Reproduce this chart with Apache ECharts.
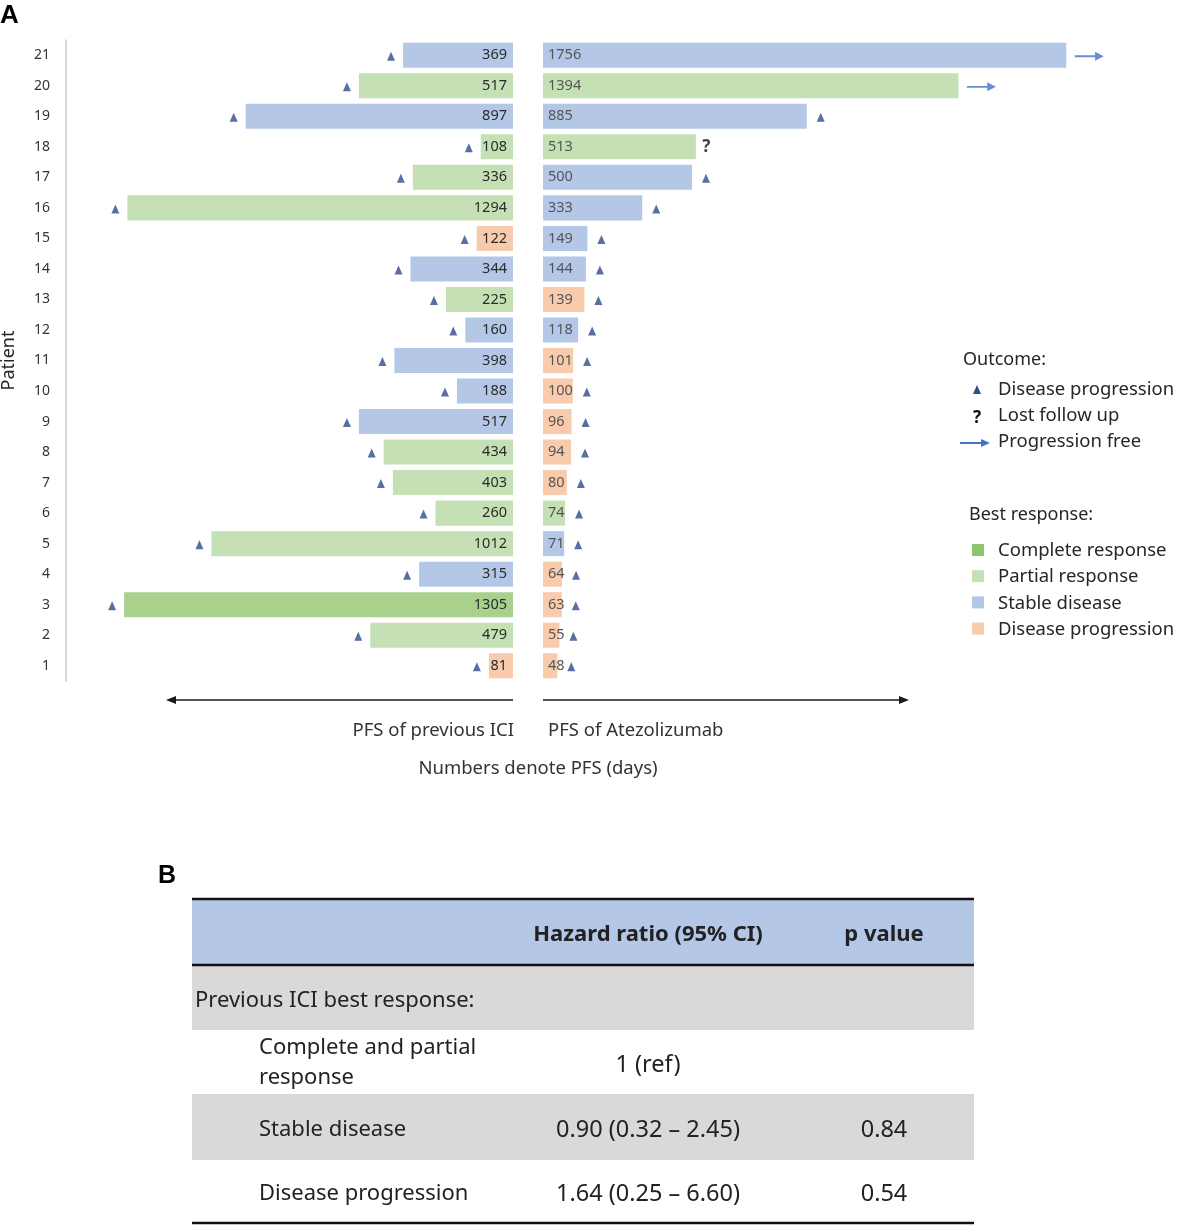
<!DOCTYPE html>
<html><head><meta charset="utf-8">
<script src="https://cdn.jsdelivr.net/npm/echarts@6.0.0/dist/echarts.min.js"></script>
<style>html,body{margin:0;padding:0;background:#fff}#c{width:1180px;height:1227px}</style>
</head><body><div id="c"></div>
<script>
// ---------------- data ----------------
const patients = ['1','2','3','4','5','6','7','8','9','10','11','12','13','14','15','16','17','18','19','20','21'];
const prevPFS  = [81,479,1305,315,1012,260,403,434,517,188,398,160,225,344,122,1294,336,108,897,517,369];
const prevResp = ['DP','PR','CR','SD','PR','PR','PR','PR','SD','SD','SD','SD','PR','SD','DP','PR','PR','PR','SD','PR','SD'];
const atezoPFS  = [48,55,63,64,71,74,80,94,96,100,101,118,139,144,149,333,500,513,885,1394,1756];
const atezoResp = ['DP','DP','DP','DP','SD','PR','DP','DP','DP','DP','DP','SD','DP','SD','SD','SD','SD','PR','SD','PR','SD'];
const prevOutcome  = ['prog','prog','prog','prog','prog','prog','prog','prog','prog','prog','prog','prog','prog','prog','prog','prog','prog','prog','prog','prog','prog'];
const atezoOutcome = ['prog','prog','prog','prog','prog','prog','prog','prog','prog','prog','prog','prog','prog','prog','prog','prog','prog','lost','prog','free','free'];

const respNames = {CR:'Complete response', PR:'Partial response', SD:'Stable disease', DP:'Disease progression'};
const outcomeNames = ['Disease progression','Lost follow up','Progression free'];

const tableHeader = ['', 'Hazard ratio (95% CI)', 'p value'];
const tableLabels = ['Previous ICI best response:', 'Complete and partial\nresponse', 'Stable disease', 'Disease progression'];
const tableHR     = ['', '1 (ref)', '0.90 (0.32 – 2.45)', '1.64 (0.25 – 6.60)'];
const tableP      = ['', '', '0.84', '0.54'];

// ---------------- styles ----------------
const respColor = {CR:'#a9d18e', PR:'#c5e0b4', SD:'#b4c7e7', DP:'#f8cbad'};
const triColor = '#2f4b8c';
const arrowColor = '#4472c4';
const FONT = '"Noto Sans", "Open Sans", sans-serif';
const arrowPath = 'path://M0,4 L21,4 L21,0 L30,5 L21,10 L21,6 L0,6 Z';

function barData(vals, resp){
  return vals.map((v,i)=>({value:v, itemStyle:{color:respColor[resp[i]]}}));
}
function pick(vals, outc, key){
  const out=[];
  vals.forEach((v,i)=>{ if(outc[i]===key) out.push([v,i]); });
  return out;
}

const chart = echarts.init(document.getElementById('c'), null, {renderer:'canvas'});

// graphic elements: labels, arrows, legend, table
const G = [];
function txt(t,x,y,size,opt){
  opt=opt||{};
  G.push({type:'text', z:100, style:Object.assign({text:t, x:x, y:y, fill:opt.fill||'#262626',
    font:(opt.bold?'bold ':'')+size+'px '+(opt.family||FONT),
    align:opt.align||'left', textAlign:opt.align||'left',
    verticalAlign:'middle', textVerticalAlign:'middle', lineHeight:opt.lh||size*1.2})});
}
txt('A', 0, 16, 26, {bold:true, family:'"Liberation Sans", Arial, sans-serif', fill:'#000'});
txt('B', 158, 876, 25, {bold:true, family:'"Liberation Sans", Arial, sans-serif', fill:'#000'});

// bottom direction arrows
G.push({type:'line', shape:{x1:513,y1:700,x2:172,y2:700}, style:{stroke:'#1a1a1a', lineWidth:1.5}});
G.push({type:'polygon', shape:{points:[[166,700],[176,696],[176,704]]}, style:{fill:'#1a1a1a'}});
G.push({type:'line', shape:{x1:543,y1:700,x2:902,y2:700}, style:{stroke:'#1a1a1a', lineWidth:1.5}});
G.push({type:'polygon', shape:{points:[[909,700],[899,696],[899,704]]}, style:{fill:'#1a1a1a'}});
txt('PFS of previous ICI', 514, 731, 18.5, {align:'right', fill:'#333'});
txt('PFS of Atezolizumab', 548, 731, 18.5, {fill:'#333'});
txt('Numbers denote PFS (days)', 538, 769, 18.5, {align:'center', fill:'#333'});

// legend: outcome
txt('Outcome:', 963, 360, 18, {fill:'#262626'});
G.push({type:'polygon', shape:{points:[[977,385],[973,394],[981,394]]}, style:{fill:triColor}});
txt(outcomeNames[0], 998, 390, 18.5);
txt('?', 977, 418, 17, {align:'center', bold:true, fill:'#111'});
txt(outcomeNames[1], 998, 416, 18.5);
G.push({type:'line', shape:{x1:960,y1:443,x2:982,y2:443}, style:{stroke:arrowColor, lineWidth:2}});
G.push({type:'polygon', shape:{points:[[990,443],[981,439],[981,447]]}, style:{fill:arrowColor}});
txt(outcomeNames[2], 998, 442, 18.5);
// legend: best response
txt('Best response:', 969, 515, 18);
['CR','PR','SD','DP'].forEach((k,i)=>{
  const y = 550 + i*26.2;
  G.push({type:'rect', shape:{x:972,y:y-6,width:12,height:12}, style:{fill:k==='CR'?'#8dc46f':respColor[k]}});
  txt(respNames[k], 998, y+1, 18.5);
});

// table
const TX0=192, TX1=974;
const rowTops = [966, 1030, 1094, 1160];
const rowBots = [1030, 1094, 1160, 1222];
const rowFill = ['#d9d9d9', '#ffffff', '#d9d9d9', '#ffffff'];
G.push({type:'rect', shape:{x:TX0,y:900,width:TX1-TX0,height:65}, style:{fill:'#b4c7e7'}});
rowTops.forEach((t,i)=>{
  G.push({type:'rect', shape:{x:TX0,y:t,width:TX1-TX0,height:rowBots[i]-t}, style:{fill:rowFill[i]}});
});
G.push({type:'line', shape:{x1:TX0,y1:899,x2:TX1,y2:899}, style:{stroke:'#111', lineWidth:2.5}});
G.push({type:'line', shape:{x1:TX0,y1:965,x2:TX1,y2:965}, style:{stroke:'#111', lineWidth:2.5}});
G.push({type:'line', shape:{x1:TX0,y1:1223,x2:TX1,y2:1223}, style:{stroke:'#111', lineWidth:2.5}});
txt(tableHeader[1], 648, 935, 22, {align:'center', bold:true, fill:'#222'});
txt(tableHeader[2], 884, 935, 22, {align:'center', bold:true, fill:'#222'});
tableLabels.forEach((lab,i)=>{
  const cy = (rowTops[i]+rowBots[i])/2;
  txt(lab, i===0?195:259, cy+(i===1?1:3), 22, {fill:'#222', lh:30});
  if(tableHR[i]) txt(tableHR[i], 648, cy+3, 23.5, {align:'center', fill:'#222'});
  if(tableP[i]) txt(tableP[i], 884, cy+3, 23.5, {align:'center', fill:'#222'});
});

const gridTop = 40, gridH = 641;

const option = {
  backgroundColor:'#fff',
  animation:false,
  textStyle:{fontFamily:FONT},
  grid:[
    {left:66, width:447, top:gridTop, height:gridH, outerBoundsMode:'none'},
    {left:543, width:596, top:gridTop, height:gridH, outerBoundsMode:'none'}
  ],
  xAxis:[
    {type:'value', gridIndex:0, min:0, max:1500, inverse:true, show:false},
    {type:'value', gridIndex:1, min:0, max:2000, show:false}
  ],
  yAxis:[
    {type:'category', gridIndex:0, data:patients, position:'left',
     axisLine:{show:true, onZero:false, lineStyle:{color:'#c9c9c9', width:1.5}},
     axisTick:{show:false}, splitLine:{show:false},
     axisLabel:{color:'#333', fontSize:14, margin:16, fontFamily:FONT},
     name:'Patient', nameLocation:'middle', nameRotate:90, nameGap:48,
     nameTextStyle:{fontSize:18, color:'#262626', fontFamily:FONT}},
    {type:'category', gridIndex:1, data:patients, show:false}
  ],
  series:[
    {type:'bar', xAxisIndex:0, yAxisIndex:0, barWidth:'82%', data:barData(prevPFS, prevResp),
     label:{show:true, position:'insideRight', distance:6, color:'#2b2b2b', fontSize:14.5, fontFamily:FONT}},
    {type:'bar', xAxisIndex:1, yAxisIndex:1, barWidth:'82%', data:barData(atezoPFS, atezoResp),
     label:{show:true, position:'insideLeft', distance:5, color:'#555', fontSize:14.5, fontFamily:FONT}},
    {type:'scatter', xAxisIndex:0, yAxisIndex:0, data:pick(prevPFS, prevOutcome, 'prog'),
     symbol:'triangle', symbolSize:[8,9], symbolOffset:[-12,1], itemStyle:{color:triColor}},
    {type:'scatter', xAxisIndex:1, yAxisIndex:1, data:pick(atezoPFS, atezoOutcome, 'prog'),
     symbol:'triangle', symbolSize:[8,9], symbolOffset:[14,1], itemStyle:{color:triColor}},
    {type:'scatter', xAxisIndex:1, yAxisIndex:1, data:pick(atezoPFS, atezoOutcome, 'free'),
     symbol:arrowPath, symbolSize:[29,9], symbolOffset:[23,1], itemStyle:{color:arrowColor}},
    {type:'scatter', xAxisIndex:1, yAxisIndex:1, data:pick(atezoPFS, atezoOutcome, 'lost'),
     symbol:'circle', symbolSize:1, itemStyle:{color:'rgba(0,0,0,0)'},
     label:{show:true, formatter:'?', position:'right', distance:6, fontWeight:'bold', fontSize:17, color:'#111', fontFamily:FONT}}
  ],
  graphic:G
};
chart.setOption(option);
</script>
</body></html>
